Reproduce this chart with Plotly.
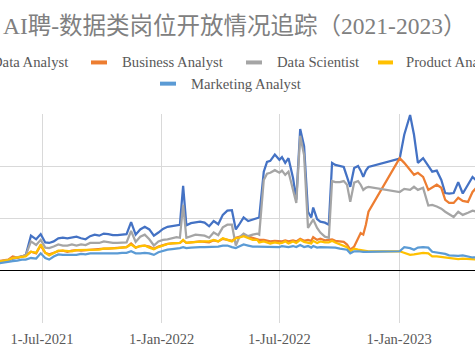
import plotly.graph_objects as go

dates = [
    "2021-04-26", "2021-05-04", "2021-05-10", "2021-05-17", "2021-05-24", "2021-05-31",
    "2021-06-06", "2021-06-14", "2021-06-22", "2021-06-29", "2021-07-06", "2021-07-12",
    "2021-07-19", "2021-07-26", "2021-08-02", "2021-08-09", "2021-08-16", "2021-08-23",
    "2021-08-30", "2021-09-06", "2021-09-13", "2021-09-20", "2021-09-27", "2021-10-04",
    "2021-10-11", "2021-10-18", "2021-10-25", "2021-11-01", "2021-11-08", "2021-11-15",
    "2021-11-22", "2021-11-29", "2021-12-06", "2021-12-13", "2021-12-20", "2021-12-27",
    "2022-01-03", "2022-01-10", "2022-01-17", "2022-01-24", "2022-01-29", "2022-02-03",
    "2022-02-08", "2022-02-15", "2022-02-22", "2022-03-01", "2022-03-08", "2022-03-15",
    "2022-03-22", "2022-03-29", "2022-04-05", "2022-04-12", "2022-04-19", "2022-04-25",
    "2022-04-30", "2022-05-07", "2022-05-14", "2022-05-21", "2022-05-28", "2022-05-31",
    "2022-06-07", "2022-06-12", "2022-06-17", "2022-06-24", "2022-07-01", "2022-07-05",
    "2022-07-10", "2022-07-15", "2022-07-22", "2022-07-27", "2022-08-02", "2022-08-08",
    "2022-08-14", "2022-08-19", "2022-08-22", "2022-08-28", "2022-09-02", "2022-09-09",
    "2022-09-15", "2022-09-20", "2022-09-25", "2022-10-02", "2022-10-08", "2022-10-13",
    "2022-10-18", "2022-10-24", "2022-10-30", "2022-11-03", "2022-11-07", "2022-11-11",
    "2022-11-15", "2023-01-02", "2023-01-09", "2023-01-18", "2023-01-24", "2023-01-30",
    "2023-02-07", "2023-02-15", "2023-02-21", "2023-02-28", "2023-03-07", "2023-03-13",
    "2023-03-19", "2023-03-26", "2023-04-02", "2023-04-09", "2023-04-17", "2023-04-24",
    "2023-05-01",
]

data_analyst = [
    16, 17, 19, 23, 24, 27, 29, 67, 60, 70, 54, 53,
    56, 62, 63, 62, 64, 65, 62, 60, 66, 69, 67, 71,
    70, 68, 68, 69, 70, 93, 69, 79, 84, 79, 67, 73,
    80, 84, 86, 87, 88, 163, 87, 91, 93, 94, 92, 85,
    95, 89, 107, 115, 116, 79, 88, 102, 95, 98, 102, 102,
    190, 209, 211, 223, 213, 218, 207, 216, 178, 136, 272, 239,
    113, 102, 121, 99, 94, 92, 88, 207, 203, 201, 199, 180,
    161, 197, 201, 192, 180, 192, 199, 215, 261, 299, 261, 207,
    216, 201, 190, 192, 174, 149, 148, 149, 170, 148, 165, 180,
    172,
]
business_analyst = [
    18, 19, 21, 27, 25, 27, 29, 36, 33, 48, 34, 31,
    34, 37, 38, 36, 38, 39, 38, 39, 40, 41, 41, 42,
    42, 43, 43, 44, 45, 52, 44, 47, 48, 46, 42, 46,
    49, 51, 52, 53, 53, 58, 53, 54, 55, 56, 55, 54,
    58, 56, 61, 59, 57, 63, 65, 67, 65, 63, 61, 59,
    59, 57, 56, 57, 56, 56, 58, 56, 58, 56, 61, 57,
    59, 57, 64, 59, 61, 58, 59, 60, 57, 56, 55, 50,
    40, 46, 63, 72, 69, 88, 113, 216, 207, 193, 184, 188,
    180, 155, 159, 165, 159, 136, 130, 130, 140, 134, 132, 151,
    161,
]
data_scientist = [
    17, 18, 20, 24, 25, 27, 29, 56, 49, 59, 44, 43,
    46, 50, 48, 48, 50, 48, 50, 49, 53, 53, 53, 56,
    54, 53, 53, 53, 54, 76, 55, 65, 69, 60, 48, 56,
    59, 60, 62, 64, 63, 126, 63, 66, 69, 68, 67, 63,
    73, 68, 83, 88, 88, 48, 63, 71, 66, 69, 71, 69,
    174, 186, 188, 193, 188, 192, 184, 190, 153, 130, 259, 222,
    82, 93, 98, 82, 73, 65, 63, 172, 170, 170, 172, 165,
    132, 169, 172, 165, 155, 159, 161, 151, 157, 155, 161, 155,
    159, 125, 126, 123, 119, 113, 109, 103, 113, 107, 111, 115,
    113,
]
product_analyst = [
    17, 18, 20, 24, 25, 27, 27, 36, 34, 50, 34, 29,
    34, 38, 38, 37, 37, 39, 39, 39, 40, 40, 40, 42,
    42, 43, 43, 44, 45, 50, 44, 47, 48, 44, 41, 45,
    48, 51, 52, 53, 53, 59, 53, 54, 55, 56, 56, 56,
    59, 56, 62, 59, 56, 62, 63, 66, 63, 59, 59, 54,
    56, 54, 52, 54, 52, 53, 56, 52, 56, 53, 59, 55,
    54, 52, 57, 53, 56, 54, 54, 57, 54, 50, 48, 45,
    37, 42, 40, 39, 38, 37, 37, 37, 34, 30, 31, 32,
    34, 33, 27, 27, 26, 24, 23, 22, 22, 23, 22, 21,
    21,
]
marketing_analyst = [
    14, 15, 16, 18, 19, 21, 21, 24, 23, 33, 24, 21,
    27, 31, 30, 30, 31, 30, 32, 31, 33, 33, 32, 33,
    33, 33, 33, 34, 34, 37, 33, 33, 34, 33, 30, 35,
    38, 40, 41, 42, 43, 45, 43, 44, 45, 45, 45, 45,
    45, 46, 48, 48, 45, 43, 46, 50, 48, 46, 46, 46,
    46, 45, 45, 46, 45, 47, 46, 45, 47, 45, 49, 45,
    47, 44, 47, 44, 45, 45, 45, 45, 44, 42, 41, 40,
    33, 37, 37, 36, 36, 36, 36, 37, 45, 43, 40, 44,
    45, 44, 36, 35, 34, 32, 29, 28, 28, 29, 27, 25,
    25,
]

series = [
    ("Data Analyst", data_analyst, "#4472C4"),
    ("Business Analyst", business_analyst, "#ED7D31"),
    ("Data Scientist", data_scientist, "#A5A5A5"),
    ("Product Analyst", product_analyst, "#FFC000"),
    ("Marketing Analyst", marketing_analyst, "#5B9BD5"),
]

title_text = "AI聘-数据类岗位开放情况追踪（2021-2023）"

W, H = 475, 356
TOP, BOTTOM = 113.5, 323.5


def py(v):
    return (BOTTOM - v) / (BOTTOM - TOP)


def px(v):
    return v / W


fig = go.Figure()
for name, vals, color in series:
    fig.add_trace(go.Scatter(
        x=dates, y=vals, mode="lines", name=name,
        line=dict(color=color, width=2.25),
        hoverinfo="skip",
    ))

serif = "Liberation Serif, Times New Roman, Noto Sans CJK SC, serif"

annotations = [
    dict(text=title_text, x=px(234), y=py(25), xref="paper", yref="paper",
         xanchor="center", yanchor="middle", showarrow=False,
         font=dict(family=serif, size=23.5, color="#808080")),
]

# legend entries (text + swatch), positioned like the reference
legend_items = [
    ("Data Analyst", "#4472C4", None, 70, 61.7, "right"),
    ("Business Analyst", "#ED7D31", (91, 107), 120, 61.7, "left"),
    ("Data Scientist", "#A5A5A5", (246, 262), 275, 61.7, "left"),
    ("Product Analyst", "#FFC000", (378, 393), 404, 61.7, "left"),
    ("Marketing Analyst", "#5B9BD5", (160, 176), 189, 83, "left"),
]
shapes = []
for text, color, sw, tx, ty, anchor in legend_items:
    annotations.append(dict(
        text=text, x=px(tx), y=py(ty), xref="paper", yref="paper",
        xanchor=anchor, yanchor="middle", showarrow=False,
        font=dict(family=serif, size=14.7, color="#595959")))
    if sw is not None:
        shapes.append(dict(type="line", xref="paper", yref="paper",
                           x0=px(sw[0]), x1=px(sw[1]), y0=py(ty), y1=py(ty),
                           line=dict(color=color, width=4)))

fig.update_layout(
    width=W, height=H,
    margin=dict(l=0, r=0, t=TOP, b=H - BOTTOM, pad=0, autoexpand=False),
    paper_bgcolor="white", plot_bgcolor="white",
    showlegend=False,
    annotations=annotations,
    shapes=shapes,
    xaxis=dict(
        type="date",
        range=["2021-04-27 09:36", "2023-04-27 19:12"],
        tick0="2021-01-01", dtick="M6",
        tickformat="%-d-%b-%Y",
        showgrid=True, gridcolor="#D9D9D9", gridwidth=1,
        zeroline=False, showline=False, ticks="",
        ticklabelstandoff=5,
        tickfont=dict(family=serif, size=14.5, color="#595959"),
    ),
    yaxis=dict(
        range=[-101, 301], dtick=100, tick0=0,
        showgrid=True, gridcolor="#D9D9D9", gridwidth=1,
        zeroline=True, zerolinecolor="#000000", zerolinewidth=1,
        showticklabels=False, ticks="", showline=False,
    ),
)

fig.write_html(
    "out.html",
    config={"displayModeBar": False, "staticPlot": True},
    post_script="document.body.style.margin='0';document.body.style.overflow='hidden';",
)
